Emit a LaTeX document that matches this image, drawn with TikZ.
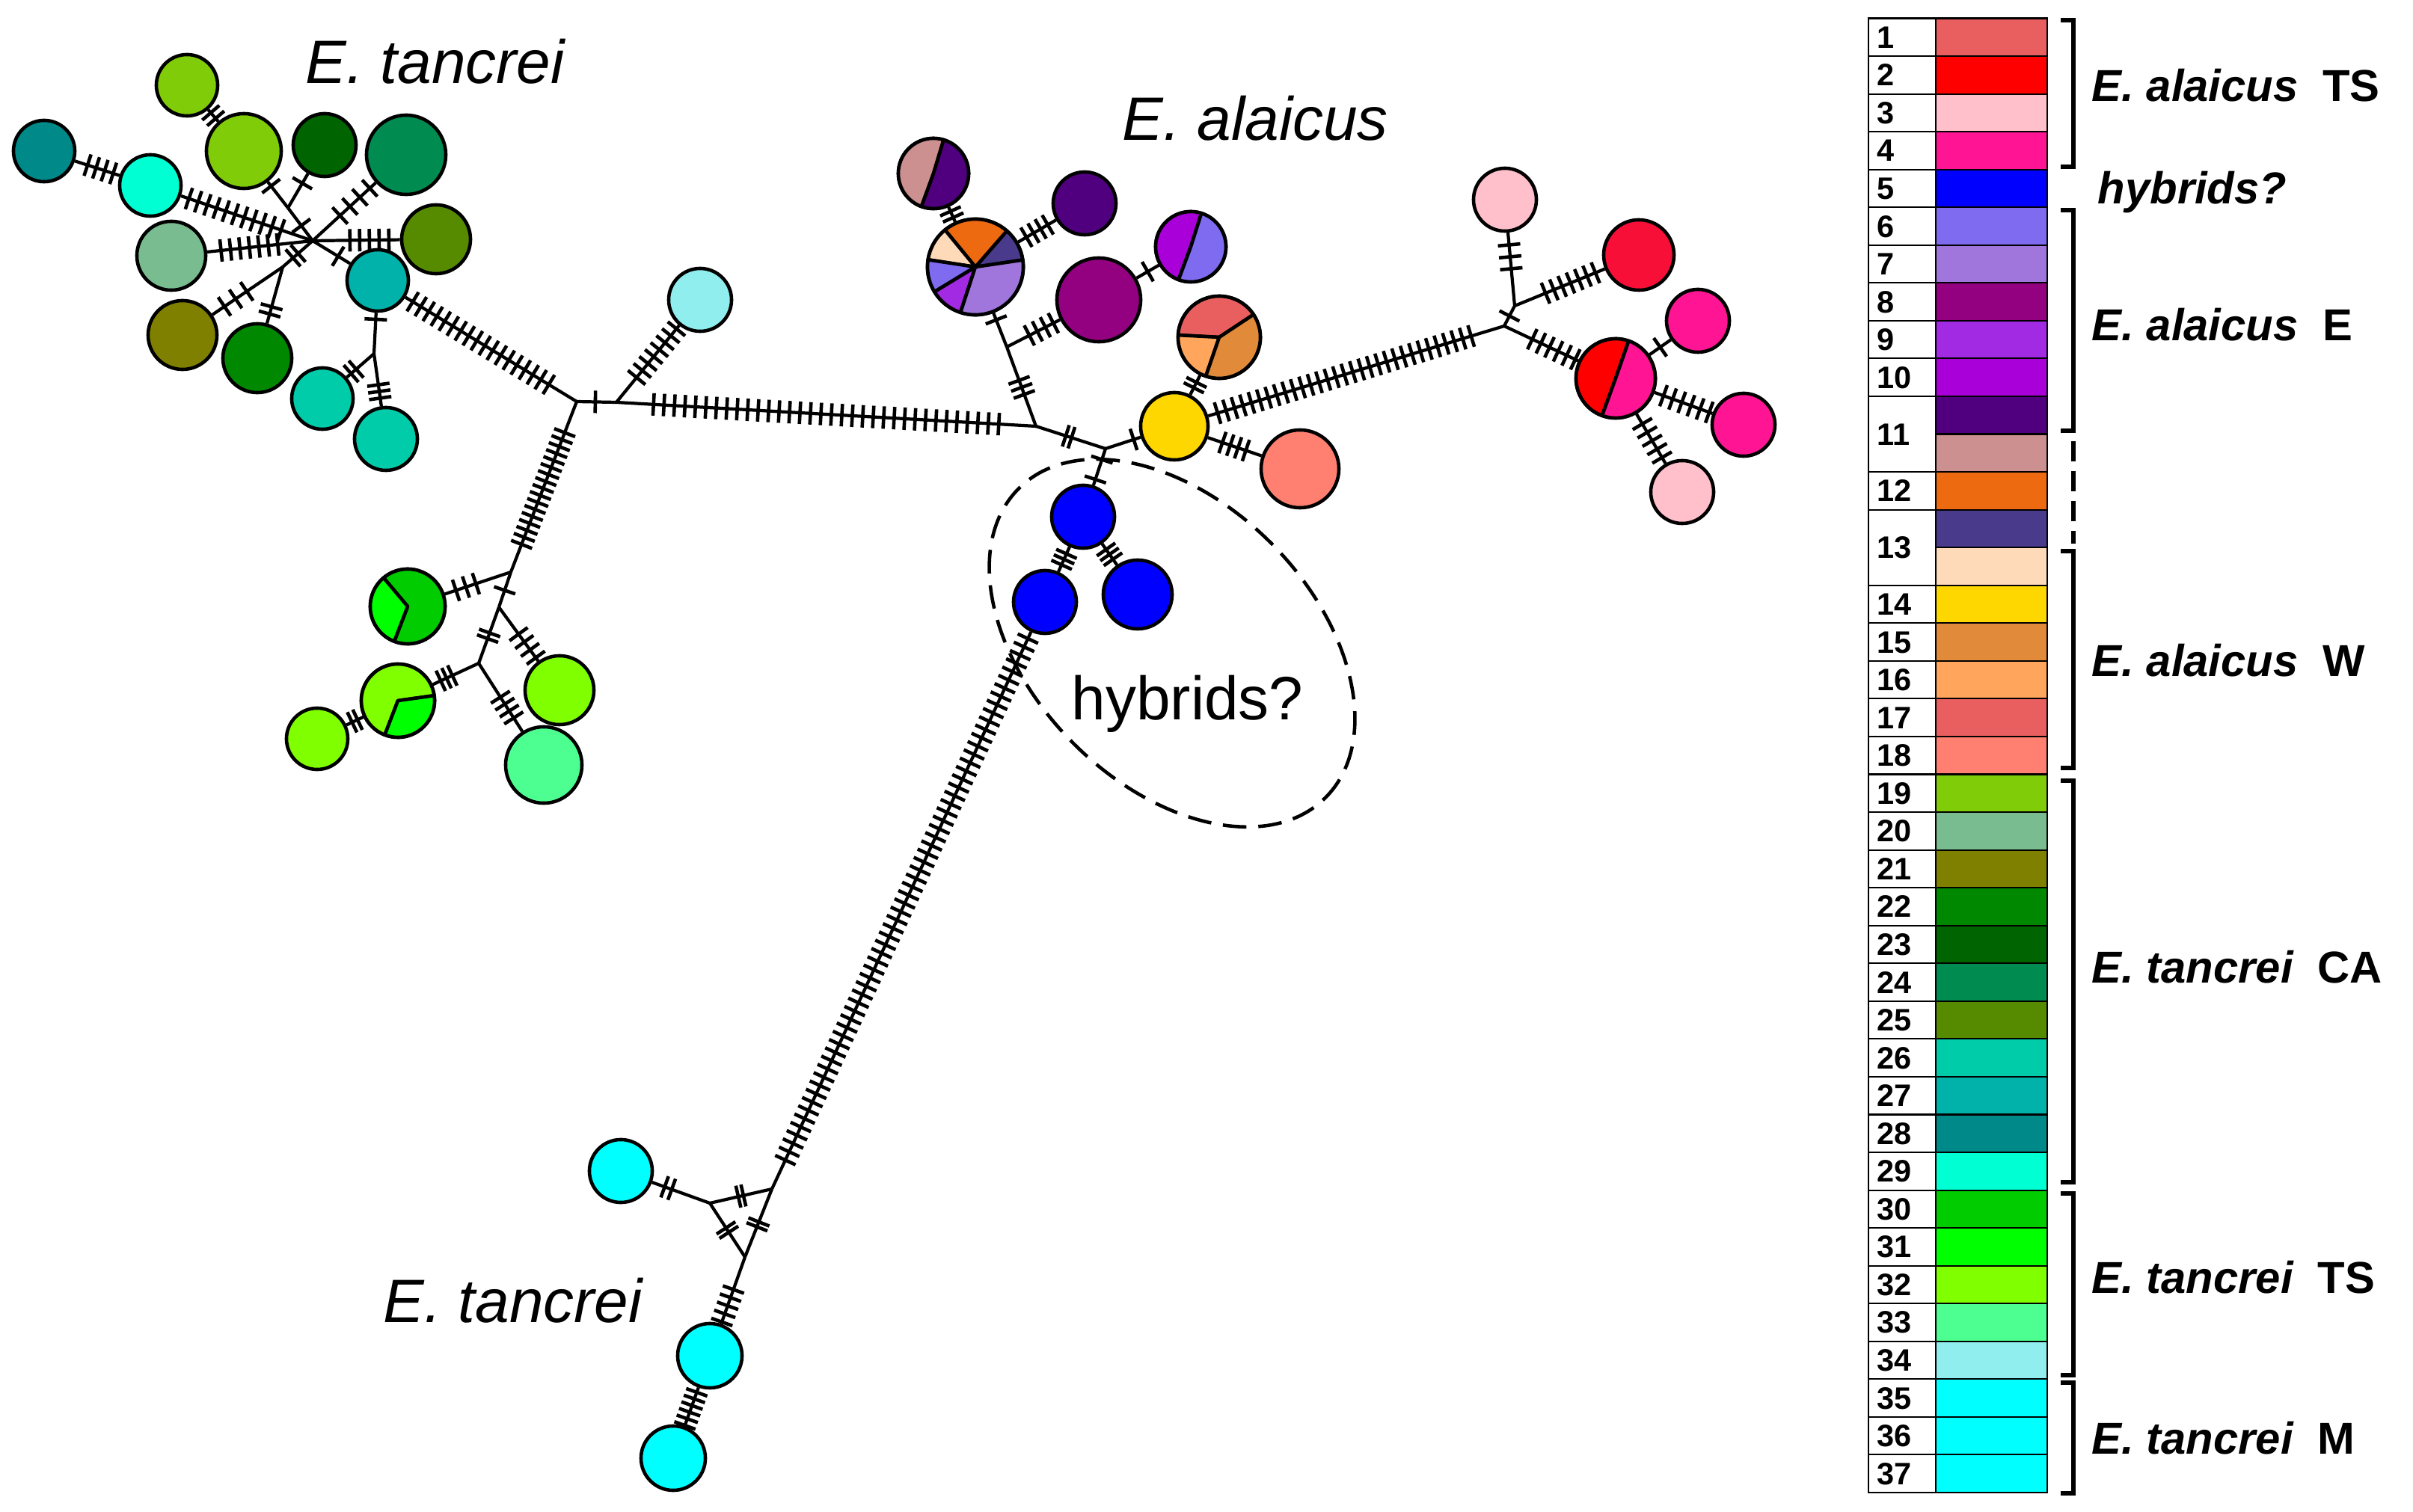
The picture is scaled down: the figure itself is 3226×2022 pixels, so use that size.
\documentclass[tikz,border=0pt]{standalone}
\usepackage{fontspec}
\setmainfont{Liberation Sans}
\usetikzlibrary{calc}
\definecolor{c1}{HTML}{E95F5F}
\definecolor{c2}{HTML}{FF0000}
\definecolor{c3}{HTML}{FFC0CB}
\definecolor{c4}{HTML}{FF1493}
\definecolor{c5}{HTML}{0000FF}
\definecolor{c6}{HTML}{7F6BEF}
\definecolor{c7}{HTML}{A076DC}
\definecolor{c8}{HTML}{930080}
\definecolor{c9}{HTML}{A22AE2}
\definecolor{c10}{HTML}{A900D9}
\definecolor{c11a}{HTML}{50007F}
\definecolor{c11b}{HTML}{CC9090}
\definecolor{c12}{HTML}{EE6A10}
\definecolor{c13a}{HTML}{4A3A8C}
\definecolor{c13b}{HTML}{FFDAB9}
\definecolor{c14}{HTML}{FFD700}
\definecolor{c15}{HTML}{E08A3A}
\definecolor{c16}{HTML}{FFA55C}
\definecolor{c17}{HTML}{E95F5F}
\definecolor{c18}{HTML}{FF8070}
\definecolor{c19}{HTML}{80CC08}
\definecolor{c20}{HTML}{78BC90}
\definecolor{c21}{HTML}{808000}
\definecolor{c22}{HTML}{008800}
\definecolor{c23}{HTML}{006400}
\definecolor{c24}{HTML}{008B50}
\definecolor{c25}{HTML}{568B00}
\definecolor{c26}{HTML}{00CCAA}
\definecolor{c27}{HTML}{00B2AA}
\definecolor{c28}{HTML}{008989}
\definecolor{c29}{HTML}{00FFD2}
\definecolor{c30}{HTML}{00CC00}
\definecolor{c31}{HTML}{00FF00}
\definecolor{c32}{HTML}{80FF00}
\definecolor{c33}{HTML}{4DFF90}
\definecolor{c34}{HTML}{90EEEE}
\definecolor{c35}{HTML}{00FFFF}
\definecolor{cred}{HTML}{F80F38}
\newcommand\mylabfont{\fontsize{23.3pt}{28pt}\selectfont}
\newcommand\mylegfont{\fontsize{17pt}{20pt}\selectfont\bfseries}
\newcommand\mynumfont{\fontsize{11.8pt}{13pt}\selectfont\bfseries}
\newcommand\lgap{\hspace{0.55em}}
\tikzset{
  hap/.style={circle, draw=black, line width=1.3pt, inner sep=0pt},
  pieslice/.style={draw=black, line width=1.3pt, line join=round},
  lnk/.style={line width=1.2pt, draw=black},
  tickn/.style={draw=black, line width=1.3pt, rectangle, inner sep=0pt, outer sep=0pt, minimum width=0pt, minimum height=0.3cm},
  legcell/.style={draw=black, line width=0.6pt},
  brk/.style={line width=1.5pt},
  leglab/.style={anchor=base west, inner sep=0pt, font=\mylegfont},
  legnum/.style={anchor=base west, inner sep=0pt, font=\mynumfont},
  mainlab/.style={anchor=base west, inner sep=0pt, font=\mylabfont},
  hyb/.style={line width=1.3pt, dash pattern=on 9pt off 4.5pt},
}
\newcommand\hap[5]{\node[hap, fill=#5, minimum size={(#4-2)*0.02cm}] (#1) at (#2,#3) {};}
\newcommand\slice[5]{\filldraw[pieslice, fill=#5] (#1.center) -- ++({-(#3)}:#2) arc[start angle={-(#3)}, end angle={-(#4)}, radius=#2] -- cycle;}
\newcommand\ed[5][0.5]{%
  \draw[lnk] (#2) -- (#3) coordinate[pos=0] (ts) coordinate[pos=1] (te);
  \ifnum#4>0\relax
    \path let \p1=(ts), \p2=(te) in \pgfextra{\pgfmathsetmacro\tmplen{veclen((\x2)-(\x1),(\y2)-(\y1))}\xdef\edlen{\tmplen}};
    \foreach \k in {1,...,#4}{%
      \pgfmathsetmacro\fpos{#1+(\k-(#4+1)/2)*#5*0.284528/\edlen}%
      \path (ts) -- (te) node[tickn, sloped, pos=\fpos] {};
    }%
  \fi
}
\begin{document}
\begin{tikzpicture}[x=0.01cm, y=-0.01cm]
\fill[white] (0,0) rectangle (3226,2022);
\useasboundingbox (0,0) rectangle (3226,2022);

% ---------- haplotype nodes ----------
\hap{h28}{59}{202}{43}{c28}
\hap{h29}{201}{248}{43}{c29}
\hap{h19a}{250}{114}{43}{c19}
\hap{h19b}{326}{202}{52}{c19}
\hap{h23}{434}{194}{44}{c23}
\hap{h24}{543}{207}{55}{c24}
\hap{h25}{583}{320}{48}{c25}
\hap{h27}{505}{375}{43}{c27}
\hap{h20}{229}{342}{48}{c20}
\hap{h21}{244}{448}{48}{c21}
\hap{h22}{344}{479}{48}{c22}
\hap{h26a}{431}{533}{43}{c26}
\hap{h26b}{516}{587}{44}{c26}
\hap{h34}{936}{401}{44}{c34}
\hap{p30}{545}{811}{52}{c30}
\hap{h32r}{748}{923}{48}{c32}
\hap{p3231}{532}{937}{51}{c32}
\hap{h33}{727}{1023}{53}{c33}
\hap{h32s}{424}{988}{43}{c32}
\hap{h35a}{830}{1566}{44}{c35}
\hap{h35b}{949}{1813}{45}{c35}
\hap{h35c}{900}{1950}{45}{c35}
\hap{h5a}{1448}{691}{44}{c5}
\hap{h5b}{1397}{805}{44}{c5}
\hap{h5c}{1521}{795}{48}{c5}
\hap{bp}{1304}{357}{66}{c7}
\hap{p11}{1248}{232}{49}{c11b}
\hap{h11}{1450}{272}{44}{c11a}
\hap{h8}{1469}{401}{58}{c8}
\hap{p106}{1592}{330}{49}{c10}
\hap{h14}{1570}{570}{47}{c14}
\hap{p17}{1630}{451}{57}{c17}
\hap{h18}{1738}{627}{54}{c18}
\hap{h3a}{2012}{267}{44}{c3}
\hap{hred}{2191}{341}{49}{cred}
\hap{prp}{2160}{506}{55}{c2}
\hap{h4a}{2270}{429}{44}{c4}
\hap{h4b}{2331}{568}{44}{c4}
\hap{h3b}{2249}{658}{44}{c3}

% ---------- pie slices ----------
\slice{bp}{64}{8.4}{48.9}{c13a}
\slice{bp}{64}{48.9}{129.4}{c12}
\slice{bp}{64}{129.4}{171.3}{c13b}
\slice{bp}{64}{171.3}{211.3}{c6}
\slice{bp}{64}{211.3}{251.9}{c9}
\slice{bp}{64}{251.9}{368.4}{c7}
\slice{p11}{47}{73.2}{250}{c11b}
\slice{p11}{47}{250}{433.2}{c11a}
\slice{p106}{47}{72.4}{249.7}{c10}
\slice{p106}{47}{249.7}{432.4}{c6}
\slice{p17}{55}{33.5}{177}{c17}
\slice{p17}{55}{177}{251}{c16}
\slice{p17}{55}{251}{393.5}{c15}
\slice{prp}{53}{70.8}{250}{c2}
\slice{prp}{53}{250}{430.8}{c4}
\slice{p30}{50}{249}{490}{c30}
\slice{p30}{50}{130}{249}{c31}
\slice{p3231}{49}{8}{249}{c32}
\slice{p3231}{49}{249}{368}{c31}

% ---------- median vectors ----------
\coordinate (H1) at (418,322);
\coordinate (J1) at (385,278);
\coordinate (J2) at (378,357);
\coordinate (J3) at (500,473);
\coordinate (M1) at (771,537);
\coordinate (J4) at (824,538);
\coordinate (M2) at (1385,570);
\coordinate (J5) at (683,765);
\coordinate (J6) at (667,812);
\coordinate (J7) at (640,887);
\coordinate (J8) at (949,1609);
\coordinate (J9) at (1032,1590);
\coordinate (J10) at (996,1681);
\coordinate (J11) at (1346,464);
\coordinate (J12) at (1478,600);
\coordinate (J13) at (2011,436);
\coordinate (J14) at (2025,409);

% ---------- connectors with mutation hatches ----------
\ed[0.57]{h28}{h29}{4}{12}
\ed[0.41]{h29}{H1}{11}{13}
\ed{h19a}{h19b}{2}{10}
\ed[0.16]{h19b}{J1}{1}{10}
\ed[0.28]{h23}{J1}{1}{10}
\ed[0.54]{J1}{H1}{1}{10}
\ed[0.33]{h24}{H1}{4}{18}
\ed[0.35]{h25}{H1}{5}{13}
\ed[0.4]{h20}{H1}{7}{12.7}
\ed[0.32]{h27}{H1}{1}{10}
\ed[0.33]{h21}{J2}{3}{18}
\ed[0.23]{h22}{J2}{2}{10}
\ed[0.43]{J2}{H1}{2}{9}
\ed[0.16]{h27}{J3}{1}{10}
\ed[0.75]{J3}{h26a}{2}{9}
\ed[0.72]{J3}{h26b}{3}{9}
\ed[0.44]{h27}{M1}{18}{12.5}
\ed[0.47]{M1}{J4}{1}{10}
\ed[0.64]{J4}{h34}{8}{12}
\ed[0.5]{J4}{M2}{34}{14}
\ed[0.51]{M1}{J5}{17}{10}
\ed[0.68]{J5}{p30}{3}{14}
\ed[0.52]{J5}{J6}{1}{10}
\ed[0.72]{J6}{h32r}{4}{13}
\ed[0.51]{J6}{J7}{2}{8}
\ed[0.7]{J7}{p3231}{3}{8.5}
\ed[0.65]{J7}{h33}{4}{11}
\ed{p3231}{h32s}{2}{8}
\ed[0.28]{h35a}{J8}{2}{10}
\ed{J8}{J9}{2}{7}
\ed{J8}{J10}{2}{7}
\ed[0.52]{J9}{J10}{2}{7}
\ed[0.73]{J10}{h35b}{5}{11.5}
\ed[0.55]{h35b}{h35c}{6}{9.4}
\ed[0.48]{h5b}{J9}{64}{12.2}
\ed{h5a}{h5b}{3}{8}
\ed{h5a}{h5c}{3}{8}
\ed[0.57]{J12}{h5a}{2}{28}
\ed[0.49]{M2}{J11}{3}{10}
\ed[0.8]{J11}{bp}{1}{10}
\ed[0.65]{J11}{h8}{4}{12}
\ed{h8}{p106}{1}{10}
\ed{bp}{h11}{4}{11}
\ed{p11}{bp}{2}{9}
\ed[0.47]{M2}{J12}{2}{8}
\ed[0.8]{J12}{h14}{1}{10}
\ed{h14}{p17}{2}{8}
\ed[0.49]{h14}{h18}{4}{11}
\ed[0.46]{h14}{J13}{31}{11.8}
\ed{J13}{J14}{1}{10}
\ed[0.33]{h3a}{J14}{3}{16}
\ed[0.62]{J14}{hred}{7}{12}
\ed[0.67]{J13}{prp}{6}{12.7}
\ed{prp}{h4a}{1}{10}
\ed[0.55]{prp}{h4b}{6}{13}
\ed[0.54]{prp}{h3b}{5}{13}

% ---------- hybrids outline ----------
\draw[hyb, rotate around={-45.4:(1567,860)}] (1567,860) ellipse [x radius=2.91cm, y radius=1.88cm];

% ---------- labels ----------
\node[mainlab] (lbTa) at (408,112) {\itshape E. tancrei};
\node[mainlab] (lbAl) at (1500,188) {\itshape E. alaicus};
\node[mainlab] (lbTb) at (512,1768) {\itshape E. tancrei};
\node[mainlab] (lbHy) at (1432,962) {hybrids?};

% ---------- legend ----------
\foreach \i/\c in {0/c1,1/c2,2/c3,3/c4,4/c5,5/c6,6/c7,7/c8,8/c9,9/c10,10/c11a,11/c11b,12/c12,13/c13a,14/c13b,15/c14,16/c15,17/c16,18/c17,19/c18,20/c19,21/c20,22/c21,23/c22,24/c23,25/c24,26/c25,27/c26,28/c27,29/c28,30/c29,31/c30,32/c31,33/c32,34/c33,35/c34,36/c35,37/c35,38/c35}{
  \pgfmathsetmacro\ya{24.5+50.55*\i}
  \pgfmathsetmacro\yb{24.5+50.55*(\i+1)}
  \draw[legcell, fill=\c] (2588,\ya) rectangle (2737,\yb);
}
\foreach \n/\i/\s in {1/0/1,2/1/1,3/2/1,4/3/1,5/4/1,6/5/1,7/6/1,8/7/1,9/8/1,10/9/1,11/10/2,12/12/1,13/13/2,14/15/1,15/16/1,16/17/1,17/18/1,18/19/1,19/20/1,20/21/1,21/22/1,22/23/1,23/24/1,24/25/1,25/26/1,26/27/1,27/28/1,28/29/1,29/30/1,30/31/1,31/32/1,32/33/1,33/34/1,34/35/1,35/36/1,36/37/1,37/38/1}{
  \pgfmathsetmacro\ya{24.5+50.55*\i}
  \pgfmathsetmacro\yb{24.5+50.55*(\i+\s)}
  \pgfmathsetmacro\ym{(\ya+\yb)/2+14.5}
  \draw[legcell] (2498,\ya) rectangle (2588,\yb);
  \node[legnum] (num\n) at (2509,\ym) {\n};
}
\draw[brk] (2755,27) -- (2772,27) -- (2772,223) -- (2755,223);
\draw[brk] (2755,281) -- (2772,281) -- (2772,576) -- (2755,576);
\draw[brk, dash pattern=on 7.7pt off 3.7pt] (2772,590) -- (2772,727);
\draw[brk] (2755,737) -- (2772,737) -- (2772,1027) -- (2755,1027);
\draw[brk] (2755,1044) -- (2772,1044) -- (2772,1581) -- (2755,1581);
\draw[brk] (2755,1596) -- (2772,1596) -- (2772,1839) -- (2755,1839);
\draw[brk] (2755,1849) -- (2772,1849) -- (2772,1997) -- (2755,1997);

\node[leglab] (lgA) at (2796,136) {\itshape E. alaicus\upshape\lgap TS};
\node[leglab] (lgH) at (2804,273) {\itshape hybrids?};
\node[leglab] (lgB) at (2796,456) {\itshape E. alaicus\upshape\lgap E};
\node[leglab] (lgC) at (2796,905) {\itshape E. alaicus\upshape\lgap W};
\node[leglab] (lgD) at (2796,1314) {\itshape E. tancrei\upshape\lgap CA};
\node[leglab] (lgE) at (2796,1729) {\itshape E. tancrei\upshape\lgap TS};
\node[leglab] (lgF) at (2796,1944) {\itshape E. tancrei\upshape\lgap M};
\end{tikzpicture}
\end{document}
